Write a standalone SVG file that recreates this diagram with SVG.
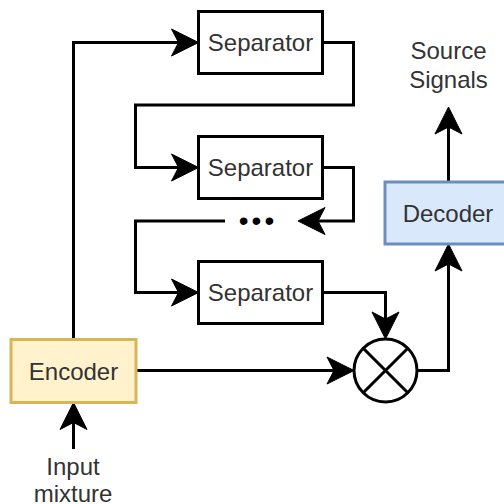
<svg xmlns="http://www.w3.org/2000/svg" width="504" height="504" viewBox="0 0 504 504">
  <style>
    .box { fill: #ffffff; stroke: #000000; stroke-width: 3; }
    .enc { fill: #fff2cc; stroke: #d6b656; stroke-width: 3; }
    .dec { fill: #dae8fc; stroke: #6c8ebf; stroke-width: 3; }
    .lbl { font-family: "Liberation Sans", Arial, Helvetica, sans-serif; font-size: 24px; fill: #333333; text-anchor: middle; }
    .edge { fill: none; stroke: #000000; stroke-width: 3; stroke-linejoin: miter; }
    .mix { fill: #ffffff; stroke: #000000; stroke-width: 3; }
  </style>
  <defs>
    <!-- block arrowhead; the line stops at the notch, the tip sits 20px further on -->
    <marker id="arrow" markerUnits="userSpaceOnUse" orient="auto" overflow="visible" markerWidth="30" markerHeight="30" refX="0" refY="0">
      <path d="M20,0 L-7,-13.5 L0,0 L-7,13.5 Z" fill="#000000" stroke="#000000" stroke-width="1"/>
    </marker>
  </defs>

  <!-- connectors -->
  <g id="connectors">
    <path class="edge" d="M73.5,339.5 V42.5 H178.5" marker-end="url(#arrow)"/>
    <path class="edge" d="M322.5,42.5 H353.5 V105 H135.5 V167.5 H178.5" marker-end="url(#arrow)"/>
    <path class="edge" d="M322.5,167.5 H353.5 V221 H318" marker-end="url(#arrow)"/>
    <path class="edge" d="M225,221 H135.5 V292.5 H178.5" marker-end="url(#arrow)"/>
    <path class="edge" d="M322.5,292.5 H385.5 V319" marker-end="url(#arrow)"/>
    <path class="edge" d="M136,370.5 H334" marker-end="url(#arrow)"/>
    <path class="edge" d="M417,370.5 H448.5 V264" marker-end="url(#arrow)"/>
    <path class="edge" d="M448.5,182 V127" marker-end="url(#arrow)"/>
    <path class="edge" d="M73.5,449 V422.5" marker-end="url(#arrow)"/>
  </g>

  <!-- separator stages -->
  <g id="separator1">
    <rect class="box" x="198.5" y="11.5" width="124" height="62"/>
    <text class="lbl" x="260.5" y="51">Separator</text>
  </g>
  <g id="separator2">
    <rect class="box" x="198.5" y="136.5" width="124" height="62"/>
    <text class="lbl" x="260.5" y="176">Separator</text>
  </g>
  <g id="separator3">
    <rect class="box" x="198.5" y="261.5" width="124" height="62"/>
    <text class="lbl" x="260.5" y="301">Separator</text>
  </g>

  <!-- ellipsis between stages -->
  <g id="ellipsis">
    <text class="lbl" x="258" y="230" style="fill:#000000; font-size:28px; letter-spacing:3px;">•••</text>
  </g>

  <g id="encoder">
    <rect class="enc" x="11" y="339.5" width="125" height="63"/>
    <text class="lbl" x="73.5" y="379.5">Encoder</text>
  </g>

  <g id="decoder">
    <rect class="dec" x="385" y="182" width="126" height="62"/>
    <text class="lbl" x="448" y="222">Decoder</text>
  </g>

  <!-- multiplier -->
  <g id="multiply">
    <circle class="mix" cx="385.5" cy="370.5" r="31.5"/>
    <path class="edge" d="M363.2,348.2 L407.8,392.8 M407.8,348.2 L363.2,392.8"/>
  </g>

  <g id="source-signals">
    <text class="lbl" x="448.5" y="59">Source</text>
    <text class="lbl" x="448.5" y="87.5">Signals</text>
  </g>

  <g id="input-mixture">
    <text class="lbl" x="73" y="475">Input</text>
    <text class="lbl" x="73" y="502">mixture</text>
  </g>
</svg>
